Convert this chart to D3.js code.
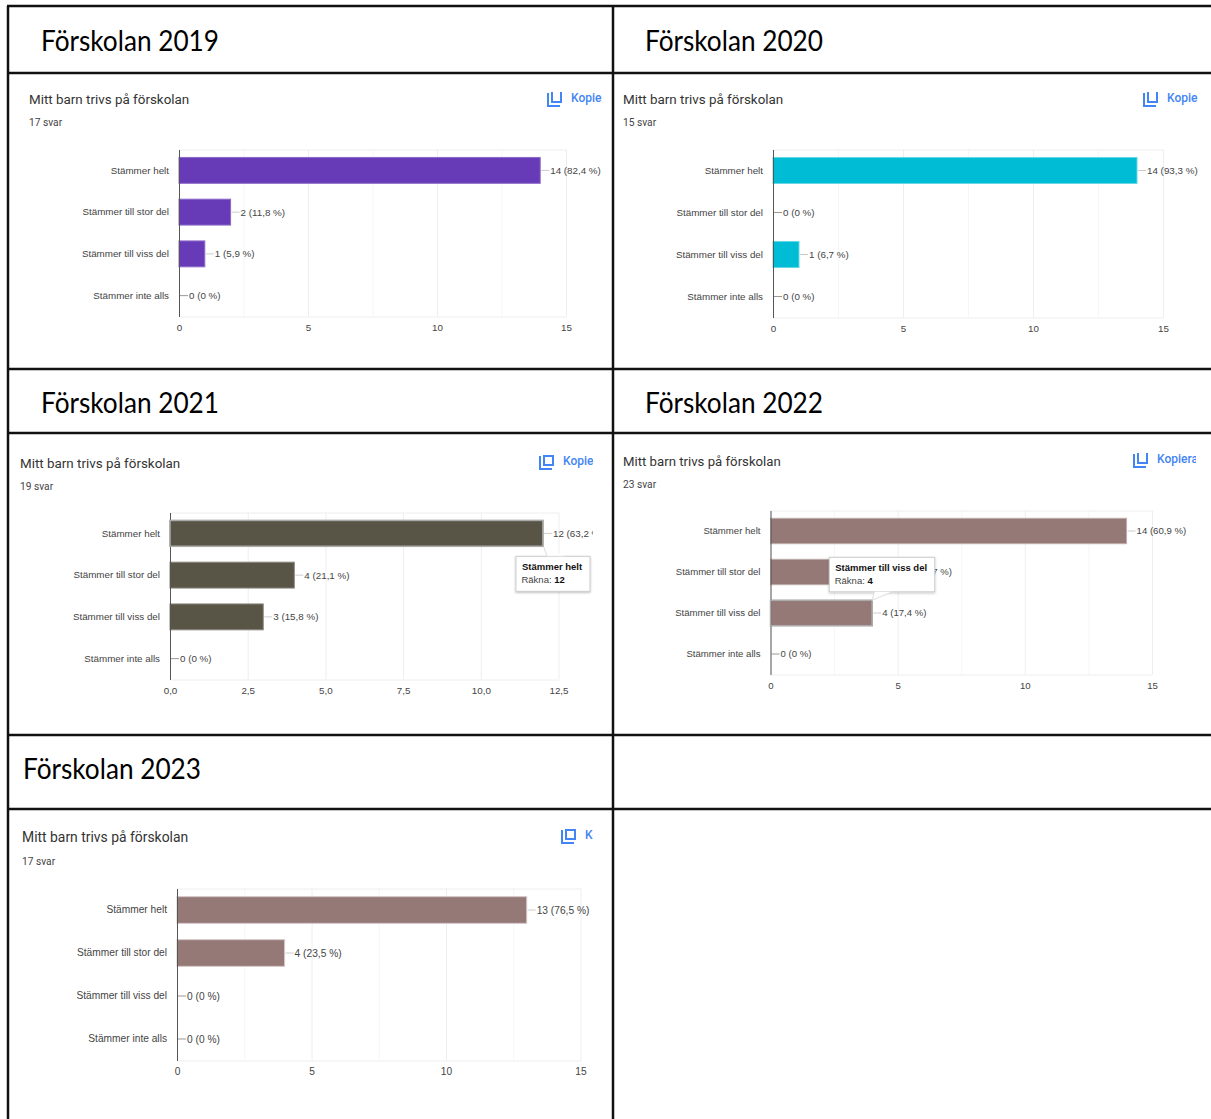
<!DOCTYPE html>
<html>
<head>
<meta charset="utf-8">
<title>Förskolan</title>
<script src="https://cdn.jsdelivr.net/npm/d3@7"></script>
<style>
  body { margin: 0; background: #fff; }
  svg { display: block; }
  .bigTick text, .catAxis text { font-family: "Liberation Sans", Arial, sans-serif; fill: #444; }
</style>
</head>
<body>
<script>
(function() {
    var w = 1211;
    var h = 1119;

    var categories = ["Stämmer helt", "Stämmer till stor del", "Stämmer till viss del", "Stämmer inte alls"];
    var question = "Mitt barn trivs på förskolan";

    var values2019 = [14, 2, 1, 0];
    var values2020 = [14, 0, 1, 0];
    var values2021 = [12, 4, 3, 0];
    var values2022 = [14, 5, 4, 0];
    var values2023 = [13, 4, 0, 0];

    var percent2019 = ["82,4", "11,8", "5,9", "0"];
    var percent2020 = ["93,3", "0", "6,7", "0"];
    var percent2021 = ["63,2", "21,1", "15,8", "0"];
    var percent2022 = ["60,9", "21,7", "17,4", "0"];
    var percent2023 = ["76,5", "23,5", "0", "0"];

    var ticks15 = [0, 5, 10, 15];
    var minor15 = [2.5, 7.5, 12.5];
    var ticks125 = [0, 2.5, 5, 7.5, 10, 12.5];

    //table rules
    var rowLines = [6, 73, 369, 433, 735, 809];
    var colLines = [8, 613];

    //where each panel sits on the page (the screenshots were pasted at slightly different sizes)
    var panels = [
        {head: "Förskolan 2019", answers: 17, values: values2019, percent: percent2019, ticks: ticks15, minor: minor15, color: "#673ab7", edge: "#8c6bc9",
         headX: 41, headY: 51, textX: 29, titleY: 104, svarY: 126, iconX: 547, iconY: 92, copyX: 571, clipX: 602, x0: 179, x1: 566, y0: 149.5, y1: 316.5, openIcon: true, titleSize: 13.4, labelSize: 9.8},
        {head: "Förskolan 2020", answers: 15, values: values2020, percent: percent2020, ticks: ticks15, minor: minor15, color: "#00bcd4", edge: "#66d7e5",
         headX: 645, headY: 51, textX: 623, titleY: 104, svarY: 126, iconX: 1143, iconY: 92, copyX: 1167, clipX: 1198, x0: 773, x1: 1163, y0: 149.5, y1: 317.5, openIcon: true, titleSize: 13.4, labelSize: 9.8},
        {head: "Förskolan 2021", answers: 19, values: values2021, percent: percent2021, ticks: ticks125, minor: [], color: "#585546", edge: "#8a8880",
         headX: 41, headY: 413, textX: 20, titleY: 467.5, svarY: 489.5, iconX: 539, iconY: 455, copyX: 563, clipX: 593, x0: 170, x1: 558.5, y0: 512.5, y1: 679.5, tipIndex: 0, tipBelow: true, titleSize: 13.4, labelSize: 9.8},
        {head: "Förskolan 2022", answers: 23, values: values2022, percent: percent2022, ticks: ticks15, minor: minor15, color: "#957977", edge: "#bfaeac",
         headX: 645, headY: 413, textX: 623, titleY: 466, svarY: 488, iconX: 1133, iconY: 453, copyX: 1157, clipX: 1196, x0: 770.5, x1: 1152, y0: 510.5, y1: 674.5, openIcon: true, tipIndex: 2, tipBelow: false, titleSize: 13.2, labelSize: 9.6},
        {head: "Förskolan 2023", answers: 17, values: values2023, percent: percent2023, ticks: ticks15, minor: minor15, color: "#957977", edge: "#d5c9c8",
         headX: 23, headY: 779, textX: 22, titleY: 842, svarY: 865, iconX: 561, iconY: 829, copyX: 585, clipX: 593, x0: 177, x1: 580.5, y0: 888.5, y1: 1060.5, titleSize: 13.9, labelSize: 10.2}
    ];

    //create our svg
    var svg = d3.select("body").append("svg")
        .attr("width", w)
        .attr("height", h);

    var defs = svg.append("defs");
    var shadow = defs.append("filter").attr("id", "tipShadow")
        .attr("x", "-20%").attr("y", "-20%").attr("width", "140%").attr("height", "140%");
    shadow.append("feDropShadow")
        .attr("dx", 0).attr("dy", 1).attr("stdDeviation", 1.2)
        .attr("flood-color", "#000").attr("flood-opacity", 0.25);

    panels.forEach(function(p, i) {
        var clipId = "clip" + i;
        defs.append("clipPath").attr("id", clipId)
            .append("rect").attr("x", p.textX - 15).attr("y", p.titleY - 30)
            .attr("width", p.clipX - p.textX + 15).attr("height", 290);

        var g = svg.append("g");

        //big heading
        g.append("text")
            .attr("x", p.headX)
            .attr("y", p.headY)
            .attr("font-family", "Lato, 'Open Sans', sans-serif")
            .attr("font-size", 28)
            .attr("textLength", 178)
            .attr("lengthAdjust", "spacingAndGlyphs")
            .attr("fill", "#000")
            .text(p.head);

        var card = g.append("g").attr("clip-path", "url(#" + clipId + ")");

        card.append("text")
            .attr("x", p.textX)
            .attr("y", p.titleY)
            .attr("font-family", "Roboto, sans-serif")
            .attr("font-size", p.titleSize)
            .attr("fill", "#333")
            .text(question);

        card.append("text")
            .attr("x", p.textX)
            .attr("y", p.svarY)
            .attr("font-family", "Roboto, sans-serif")
            .attr("font-size", 10.2)
            .attr("fill", "#444")
            .text(p.answers + " svar");

        //copy icon
        var icon = card.append("g")
            .attr("transform", "translate(" + p.iconX + "," + p.iconY + ")")
            .attr("fill", "none")
            .attr("stroke", "#4285f4")
            .attr("stroke-width", 2);
        icon.append("path").attr("d", "M1,1V14H13");
        icon.append("path").attr("d", p.openIcon ? "M5,0V10H14V0" : "M5,1H14V10H5Z");

        card.append("text")
            .attr("x", p.copyX)
            .attr("y", p.iconY + 10)
            .attr("font-family", "Roboto, sans-serif")
            .attr("font-size", 12)
            .attr("font-weight", 500)
            .attr("fill", "#4285f4")
            .text("Kopiera");

        var x = d3.scaleLinear()
            .domain([p.ticks[0], p.ticks[p.ticks.length - 1]])
            .range([p.x0, p.x1]);

        var y = d3.scaleBand()
            .domain(categories)
            .range([p.y0, p.y1])
            .paddingInner(0.38)
            .paddingOuter(0.19);

        var plotH = p.y1 - p.y0;

        //minor and major grid
        card.append("g")
            .attr("transform", "translate(0," + p.y1 + ")")
            .call(d3.axisBottom(x).tickValues(p.minor).tickSize(-plotH).tickSizeOuter(0).tickFormat(""))
            .call(function(a) {
                a.select(".domain").remove();
                a.selectAll("line").attr("stroke", "#f6f6f6");
            });

        card.append("g")
            .attr("transform", "translate(0," + p.y1 + ")")
            .call(d3.axisBottom(x).tickValues(p.ticks).tickSize(-plotH).tickSizeOuter(0).tickFormat(""))
            .call(function(a) {
                a.select(".domain").attr("stroke", "#eee");
                a.selectAll("line").attr("stroke", "#eee");
            });

        card.append("g")
            .attr("transform", "translate(0," + p.y0 + ")")
            .call(d3.axisTop(x).tickValues([]).tickSizeOuter(0))
            .call(function(a) { a.select(".domain").attr("stroke", "#eee"); });

        //tick labels
        var hasDecimals = p.ticks.some(function(t) { return t % 1 !== 0; });
        card.append("g")
            .attr("class", "bigTick")
            .attr("font-size", p.labelSize)
            .attr("transform", "translate(0," + p.y1 + ")")
            .call(d3.axisBottom(x)
                .tickValues(p.ticks)
                .tickSize(0)
                .tickPadding(7.5)
                .tickFormat(function(t) {
                    return hasDecimals ? t.toFixed(1).replace(".", ",") : String(t);
                }))
            .call(function(a) {
                a.attr("font-size", p.labelSize);
                a.select(".domain").remove();
            });

        var rows = categories.map(function(c, j) {
            return {cat: c, value: p.values[j], pct: p.percent[j]};
        });

        //bars
        card.selectAll("rect.bar")
            .data(rows.filter(function(d) { return d.value > 0; }))
            .enter()
            .append("rect")
            .attr("class", "bar")
            .attr("x", x(0))
            .attr("y", function(d) { return y(d.cat); })
            .attr("width", function(d) { return x(d.value) - x(0); })
            .attr("height", y.bandwidth())
            .attr("fill", p.color)
            .attr("stroke", p.edge);

        //leader lines and value labels
        card.selectAll("line.lead")
            .data(rows)
            .enter()
            .append("line")
            .attr("class", "lead")
            .attr("x1", function(d) { return x(d.value) + 1; })
            .attr("x2", function(d) { return x(d.value) + 9; })
            .attr("y1", function(d) { return y(d.cat) + y.bandwidth() / 2; })
            .attr("y2", function(d) { return y(d.cat) + y.bandwidth() / 2; })
            .attr("stroke", function(d) { return d.value > 0 ? "#ccc" : "#999"; });

        card.selectAll("text.val")
            .data(rows)
            .enter()
            .append("text")
            .attr("class", "val")
            .attr("x", function(d) { return x(d.value) + 10; })
            .attr("y", function(d) { return y(d.cat) + y.bandwidth() / 2; })
            .attr("dy", "0.36em")
            .attr("font-family", "'Liberation Sans', Arial, sans-serif")
            .attr("font-size", p.labelSize)
            .attr("fill", "#444")
            .text(function(d) { return d.value + " (" + d.pct + " %)"; });

        //category axis
        card.append("g")
            .attr("class", "catAxis")
            .attr("transform", "translate(" + p.x0 + ",0)")
            .call(d3.axisLeft(y).tickSize(0).tickSizeOuter(0).tickPadding(10))
            .call(function(a) {
                a.attr("font-size", p.labelSize);
                a.select(".domain").attr("stroke", "#555");
            });

        //hovered bar and its tooltip
        if (p.tipIndex !== undefined) {
            var tipCat = categories[p.tipIndex];
            var tipVal = p.values[p.tipIndex];
            var endX = x(tipVal);
            var barTop = y(tipCat);
            var barBottom = barTop + y.bandwidth();

            card.append("rect")
                .attr("x", x(0))
                .attr("y", barTop)
                .attr("width", endX - x(0))
                .attr("height", y.bandwidth())
                .attr("fill", "none")
                .attr("stroke", "#aaa")
                .attr("stroke-width", 1.5);

            var boxX, boxY, boxW, boxH, tail;
            if (p.tipBelow) {
                boxX = endX - 27; boxY = barBottom + 10; boxW = 74; boxH = 35;
                tail = [[endX + 1, barBottom + 1], [endX + 4, boxY], [endX + 23, boxY]];
            } else {
                boxW = 105.5; boxH = 34.5; boxX = endX - 43; boxY = barTop - 43;
                tail = [[endX + 2, boxY + boxH], [endX, barTop], [endX + 20, boxY + boxH]];
            }

            var tip = g.append("g");
            tip.append("rect")
                .attr("x", boxX).attr("y", boxY)
                .attr("width", boxW).attr("height", boxH)
                .attr("fill", "#fff")
                .attr("stroke", "#ccc")
                .attr("filter", "url(#tipShadow)");
            tip.append("path")
                .attr("d", d3.line()(tail))
                .attr("fill", "#fff")
                .attr("stroke", "none");
            tip.append("path")
                .attr("d", d3.line()([tail[0], tail[1]]))
                .attr("fill", "none")
                .attr("stroke", "#ddd");
            tip.append("path")
                .attr("d", d3.line()([tail[1], tail[2]]))
                .attr("fill", "none")
                .attr("stroke", "#ddd");

            tip.append("text")
                .attr("x", boxX + 6)
                .attr("y", boxY + 14)
                .attr("font-family", "'Liberation Sans', Arial, sans-serif")
                .attr("font-size", 9.5)
                .attr("font-weight", "bold")
                .attr("fill", "#111")
                .text(tipCat);

            var second = tip.append("text")
                .attr("x", boxX + 5.5)
                .attr("y", boxY + 27)
                .attr("font-family", "'Liberation Sans', Arial, sans-serif")
                .attr("font-size", 9.5)
                .attr("fill", "#444");
            second.append("tspan").text("Räkna: ");
            second.append("tspan").attr("font-weight", "bold").attr("fill", "#111").text(tipVal);
        }
    });

    //table rules on top
    svg.selectAll("line.row")
        .data(rowLines)
        .enter()
        .append("line")
        .attr("class", "row")
        .attr("x1", colLines[0] - 1)
        .attr("x2", w)
        .attr("y1", function(d) { return d; })
        .attr("y2", function(d) { return d; })
        .attr("stroke", "#111")
        .attr("stroke-width", 2.5);

    svg.selectAll("line.col")
        .data(colLines)
        .enter()
        .append("line")
        .attr("class", "col")
        .attr("x1", function(d) { return d; })
        .attr("x2", function(d) { return d; })
        .attr("y1", rowLines[0])
        .attr("y2", h)
        .attr("stroke", "#111")
        .attr("stroke-width", 2.5);
})();
</script>
</body>
</html>
